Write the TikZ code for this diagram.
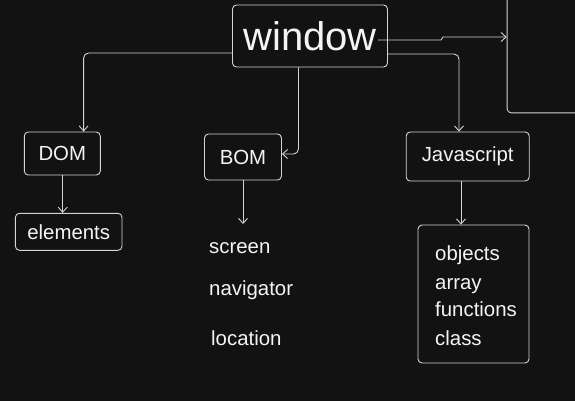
\documentclass[tikz,border=0pt]{standalone}
\usepackage{fontspec}
\setmainfont{Liberation Sans}
\usetikzlibrary{arrows.meta}
\definecolor{bg}{HTML}{121212}
\definecolor{ln}{HTML}{D4D4D4}
\definecolor{tx}{HTML}{F4F4F4}
\begin{document}
\begin{tikzpicture}[x=1pt,y=-1pt,
 box/.style={draw=ln, line width=0.9pt, rounded corners=4pt, inner sep=0pt, text=tx, font=\fontsize{20.4}{24}\selectfont},
 arr/.style={draw=ln, line width=0.9pt, rounded corners=5pt, -{Straight Barb[length=5pt,width=9pt]}},
 lbl/.style={text=tx, font=\fontsize{20.4}{24}\selectfont, inner sep=0pt, anchor=base west}
]
\fill[bg] (0,0) rectangle (575,401);
\useasboundingbox (0,0) rectangle (575,401);

\node[box, minimum width=155pt, minimum height=62pt, font=\fontsize{40}{44}\selectfont] (window) at (310,36) {window};
\node[box, minimum width=100pt, minimum height=150pt, anchor=south west] (panel) at (506.7,113.3) {};
\node[box, minimum width=76pt, minimum height=43pt] (dom) at (62.3,153.5) {DOM};
\node[box, minimum width=106.6pt, minimum height=37pt] (elements) at (68.7,231.8) {elements};
\node[box, minimum width=77pt, minimum height=46pt] (bom) at (243,157) {BOM};
\node[box, minimum width=123pt, minimum height=49pt] (js) at (467.7,156.5) {Javascript};
\node[box, minimum width=111pt, minimum height=138pt] (list) at (473.5,294) {};

\node[lbl] (screen) at (209,253.3) {screen};
\node[lbl] (navigator) at (209,295) {navigator};
\node[lbl] (location) at (211,345.7) {location};

\node[lbl] (objects) at (435,260) {objects};
\node[lbl] (array) at (435,289.3) {array};
\node[lbl] (functions) at (435,316.7) {functions};
\node[lbl] (class) at (435,345) {class};

\coordinate (bomend) at (243,224);

\draw[arr, rounded corners=0pt] ([shift={(-10pt,-4pt)}]window.east) -- (441,40) -- (443,37) -- (panel.west |- 0,37);
\draw[arr] ([yshift=-17pt]window.west) -| (dom.north -| 83.6,0);
\draw[arr] ([xshift=-11.5pt]window.south) |- (bom.east |- 0,154);
\draw[arr] ([yshift=-18pt]window.east) -| (js.north -| 459,0);
\draw[arr] (dom.south -| 62.7,0) -- (elements.north -| 62.7,0);
\draw[arr] (bom.south) -- (bomend);
\draw[arr] (js.south -| 461,0) -- (list.north -| 461,0);
\end{tikzpicture}
\end{document}
